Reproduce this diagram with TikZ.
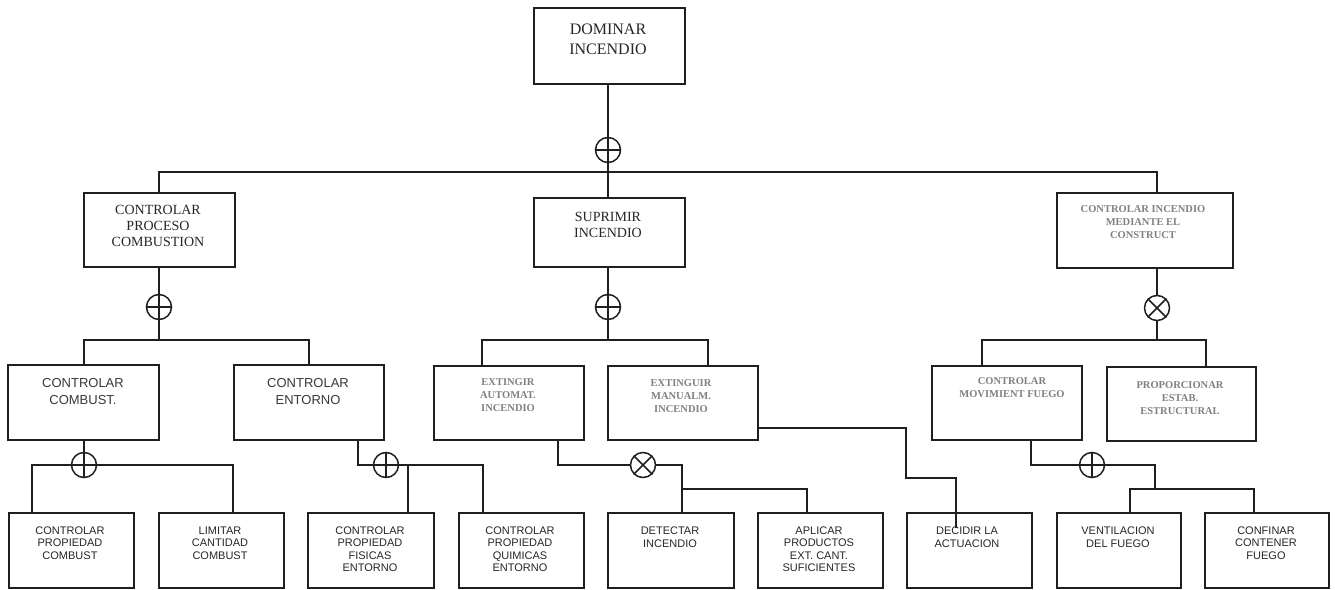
\documentclass[tikz,border=0pt]{standalone}
\usepackage{fontspec}
\setmainfont{Liberation Serif}
\setsansfont{Liberation Sans}
\begin{document}
\begin{tikzpicture}[x=1pt,y=-1pt,
  box/.style={draw=black!88, line width=2.3pt, inner sep=0pt, anchor=north west},
  conn/.style={draw=black!88, line width=2.1pt},
  opnode/.style={circle, draw=black!88, fill=white, line width=1.5pt, minimum size=25pt, inner sep=0pt},
  sbig/.style={font=\fontsize{16}{20}\selectfont, text=black!85, align=center, inner sep=0pt},
  smid/.style={font=\fontsize{14}{16}\selectfont, text=black!85, align=center, inner sep=0pt},
  sfade/.style={font=\bfseries\fontsize{10.5}{13}\selectfont, text=black!50, align=center, inner sep=0pt},
  gsans/.style={font=\sffamily\fontsize{13}{17}\selectfont, text=black!78, align=center, inner sep=0pt},
  bsans/.style={font=\sffamily\fontsize{11}{12.5}\selectfont, text=black!85, align=center, inner sep=0pt}
]
\useasboundingbox (0,0) rectangle (1335,589);

% ---------- boxes ----------
\node[box, minimum width=151pt, minimum height=76pt] (dom) at (533,7) {};
\node[box, minimum width=151pt, minimum height=74pt] (pro) at (83,192) {};
\node[box, minimum width=151pt, minimum height=69pt] (sup) at (533,197) {};
\node[box, minimum width=176pt, minimum height=75pt] (cst) at (1056,192) {};
\node[box, minimum width=151pt, minimum height=75pt] (cc) at (7,364) {};
\node[box, minimum width=150pt, minimum height=75pt] (ce) at (233,364) {};
\node[box, minimum width=150pt, minimum height=74pt] (ea) at (433,365) {};
\node[box, minimum width=150pt, minimum height=74pt] (em) at (607,365) {};
\node[box, minimum width=150pt, minimum height=74pt] (mf) at (931,365) {};
\node[box, minimum width=149pt, minimum height=74pt] (pe) at (1106,366) {};
\node[box, minimum width=125pt, minimum height=75pt] (b1) at (8,512) {};
\node[box, minimum width=125pt, minimum height=75pt] (b2) at (158,512) {};
\node[box, minimum width=126pt, minimum height=75pt] (b3) at (307,512) {};
\node[box, minimum width=125pt, minimum height=75pt] (b4) at (458,512) {};
\node[box, minimum width=126pt, minimum height=75pt] (det) at (607,512) {};
\node[box, minimum width=125pt, minimum height=75pt] (apl) at (757,512) {};
\node[box, minimum width=125pt, minimum height=75pt] (dec) at (906,512) {};
\node[box, minimum width=124pt, minimum height=75pt] (ven) at (1056,512) {};
\node[box, minimum width=124pt, minimum height=75pt] (con) at (1204,512) {};

% ---------- texts ----------
\node[sbig] (tdom) at (608,39) {DOMINAR\\INCENDIO};
\node[smid] (tpro) at (158,226) {CONTROLAR\\PROCESO\\COMBUSTION};
\node[smid] (tsup) at (608,225) {SUPRIMIR\\INCENDIO};
\node[sfade] (tcst) at (1143,222) {CONTROLAR INCENDIO\\MEDIANTE EL\\CONSTRUCT};
\node[gsans] (tcc) at (83,392) {CONTROLAR\\COMBUST.};
\node[gsans] (tce) at (308,392) {CONTROLAR\\ENTORNO};
\node[sfade] (tea) at (508,395) {EXTINGIR\\AUTOMAT.\\INCENDIO};
\node[sfade] (tem) at (681,396) {EXTINGUIR\\MANUALM.\\INCENDIO};
\node[sfade] (tmf) at (1012,388) {CONTROLAR\\MOVIMIENT FUEGO};
\node[sfade] (tpe) at (1180,398) {PROPORCIONAR\\ESTAB.\\ESTRUCTURAL};
\node[bsans] (tb1) at (70,543) {CONTROLAR\\PROPIEDAD\\COMBUST};
\node[bsans] (tb2) at (220,543) {LIMITAR\\CANTIDAD\\COMBUST};
\node[bsans] (tb3) at (370,549) {CONTROLAR\\PROPIEDAD\\FISICAS\\ENTORNO};
\node[bsans] (tb4) at (520,549) {CONTROLAR\\PROPIEDAD\\QUIMICAS\\ENTORNO};
\node[bsans] (tdet) at (670,537) {DETECTAR\\INCENDIO};
\node[bsans] (tapl) at (819,549) {APLICAR\\PRODUCTOS\\EXT. CANT.\\SUFICIENTES};
\node[bsans] (tdec) at (967,537) {DECIDIR LA\\ACTUACION};
\node[bsans] (tven) at (1118,537) {VENTILACION\\DEL FUEGO};
\node[bsans] (tcon) at (1266,543) {CONFINAR\\CONTENER\\FUEGO};

% ---------- junction coordinates ----------
\coordinate (c0p) at (608,150);
\coordinate (h0l) at (159,172);
\coordinate (h0r) at (1157,172);
\coordinate (c1p) at (159,307);
\coordinate (h1) at (159,340);
\coordinate (c2p) at (608,307);
\coordinate (h2) at (608,340);
\coordinate (h2l) at (482,340);
\coordinate (h2r) at (708,340);
\coordinate (c3p) at (1157,308);
\coordinate (h3) at (1157,340);
\coordinate (h3l) at (982,340);
\coordinate (h3r) at (1206,340);
\coordinate (c4p) at (84,465);
\coordinate (h4l) at (32,465);
\coordinate (h4r) at (233,465);
\coordinate (c5p) at (386,465);
\coordinate (k5a) at (358,465);
\coordinate (k5b) at (483,465);
\coordinate (k5c) at (408,465);
\coordinate (c6p) at (643,465);
\coordinate (k6a) at (558,465);
\coordinate (k6b) at (682,465);
\coordinate (k6c) at (682,489);
\coordinate (k6d) at (807,489);
\coordinate (k8a) at (906,428);
\coordinate (k8b) at (906,478);
\coordinate (k8c) at (956,478);
\coordinate (k8d) at (956,528);
\coordinate (c7p) at (1092,465);
\coordinate (k7a) at (1031,465);
\coordinate (k7b) at (1155,465);
\coordinate (k7c) at (1155,489);
\coordinate (k7l) at (1130,489);
\coordinate (k7r) at (1254,489);

% ---------- connectors ----------
\draw[conn] (dom.south -| c0p) -- (sup.north -| c0p);
\draw[conn] (pro.north -| h0l) -- (h0l) -- (h0r) -- (cst.north -| h0r);

\draw[conn] (pro.south -| c1p) -- (h1);
\draw[conn] (cc.north) |- (ce.north |- h1) -- (ce.north);

\draw[conn] (sup.south -| c2p) -- (h2);
\draw[conn] (ea.north -| h2l) -- (h2l) -- (h2r) -- (em.north -| h2r);

\draw[conn] (cst.south -| c3p) -- (h3);
\draw[conn] (mf.north -| h3l) -- (h3l) -- (h3r) -- (pe.north -| h3r);

\draw[conn] (cc.south -| c4p) -- (c4p);
\draw[conn] (b1.north -| h4l) -- (h4l) -- (h4r) -- (b2.north -| h4r);

\draw[conn] (ce.south -| k5a) -- (k5a) -- (k5b) -- (b4.north -| k5b);
\draw[conn] (k5c) -- (b3.north -| k5c);

\draw[conn] (ea.south -| k6a) -- (k6a) -- (k6b) -- (det.north -| k6b);
\draw[conn] (k6c) -- (k6d) -- (apl.north -| k6d);

\draw[conn] (em.east |- k8a) -- (k8a) -- (k8b) -- (k8c) -- (k8d);

\draw[conn] (mf.south -| k7a) -- (k7a) -- (k7b) -- (k7c);
\draw[conn] (ven.north -| k7l) -- (k7l) -- (k7r) -- (con.north -| k7r);

% ---------- operator circles ----------
\node[opnode] (c0) at (c0p) {};
\node[opnode] (c1) at (c1p) {};
\node[opnode] (c2) at (c2p) {};
\node[opnode] (c3) at (c3p) {};
\node[opnode] (c4) at (c4p) {};
\node[opnode] (c5) at (c5p) {};
\node[opnode] (c6) at (c6p) {};
\node[opnode] (c7) at (c7p) {};
\foreach \c in {c0,c1,c2,c4,c5,c7}{
  \draw[black!88, line width=1.5pt] (\c.north) -- (\c.south) (\c.west) -- (\c.east);
}
\foreach \c in {c3,c6}{
  \draw[black!88, line width=1.5pt] (\c.north west) -- (\c.south east) (\c.north east) -- (\c.south west);
}
\end{tikzpicture}
\end{document}
